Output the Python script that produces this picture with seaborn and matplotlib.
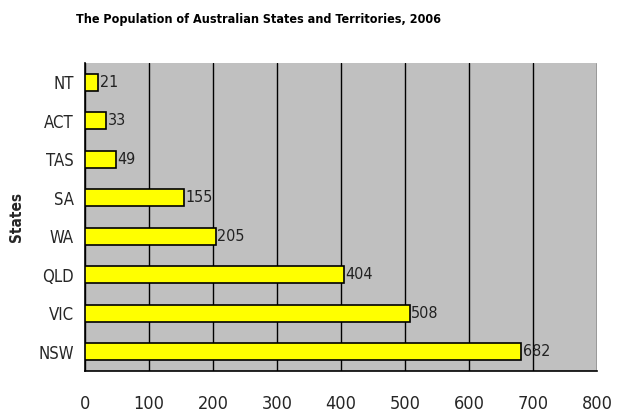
import matplotlib
matplotlib.use("Agg")
import matplotlib.pyplot as plt
from matplotlib import font_manager
import seaborn as sns
import pandas as pd
from matplotlib.ticker import FixedLocator

states = ["NT", "ACT", "TAS", "SA", "WA", "QLD", "VIC", "NSW"]
population = [21, 33, 49, 155, 205, 404, 508, 682]
x_ticks = [0, 100, 200, 300, 400, 500, 600, 700, 800]

df = pd.DataFrame({"State": states, "Population": population})

sns.set_style("white")
names = sorted({(f.name, f.stretch) for f in font_manager.fontManager.ttflist})
print([n for n in names if "Narrow" in n[0] or "ondens" in str(n[1]) or "ondens" in n[0]])
plt.rcParams["font.family"] = ["DejaVu Sans"]
plt.rcParams["font.stretch"] = "condensed"

fig = plt.figure(figsize=(6.2, 4.16), dpi=100)
ax = fig.add_axes([85 / 620, 45 / 416, 512 / 620, 308 / 416])
ax.set_facecolor("#c0c0c0")

sns.barplot(data=df, x="Population", y="State", order=states, orient="h",
            color="#ffff00", edgecolor="black", linewidth=1.2, width=0.45,
            saturation=1, ax=ax, zorder=3)

ax.set_xlim(0, 800)
ax.set_ylim(len(states) - 0.5, -0.5)
ax.set_xticks(x_ticks)
ax.set_xticklabels([str(t) for t in x_ticks], fontsize=13)
ax.xaxis.grid(True, color="black", linewidth=1, zorder=1)
ax.set_axisbelow(True)

ax.yaxis.set_minor_locator(FixedLocator([i + 0.5 for i in range(-1, len(states))]))
ax.tick_params(axis="y", which="major", length=0, labelsize=12, pad=8)
ax.tick_params(axis="y", which="minor", length=6, width=1.2, color="black", direction="out")
ax.tick_params(axis="x", which="major", length=8, width=1.2, color="black",
               direction="out", pad=9)

for side in ["top", "right"]:
    ax.spines[side].set_visible(False)
for side in ["left", "bottom"]:
    ax.spines[side].set_color("black")
    ax.spines[side].set_linewidth(1.2)

for i, v in enumerate(population):
    ax.text(v + 2, i, str(v), va="center", ha="left", fontsize=11.5,
            color="#222222", zorder=4)

ax.set_xlabel("")
ax.set_ylabel("States", fontsize=11, fontweight="bold", labelpad=10)
fig.text(258 / 620, 1 - 20 / 416,
         "The Population of Australian States and Territories, 2006",
         ha="center", va="center", fontsize=9, fontweight="bold", color="black")

fig.savefig("out.png", dpi=100)
